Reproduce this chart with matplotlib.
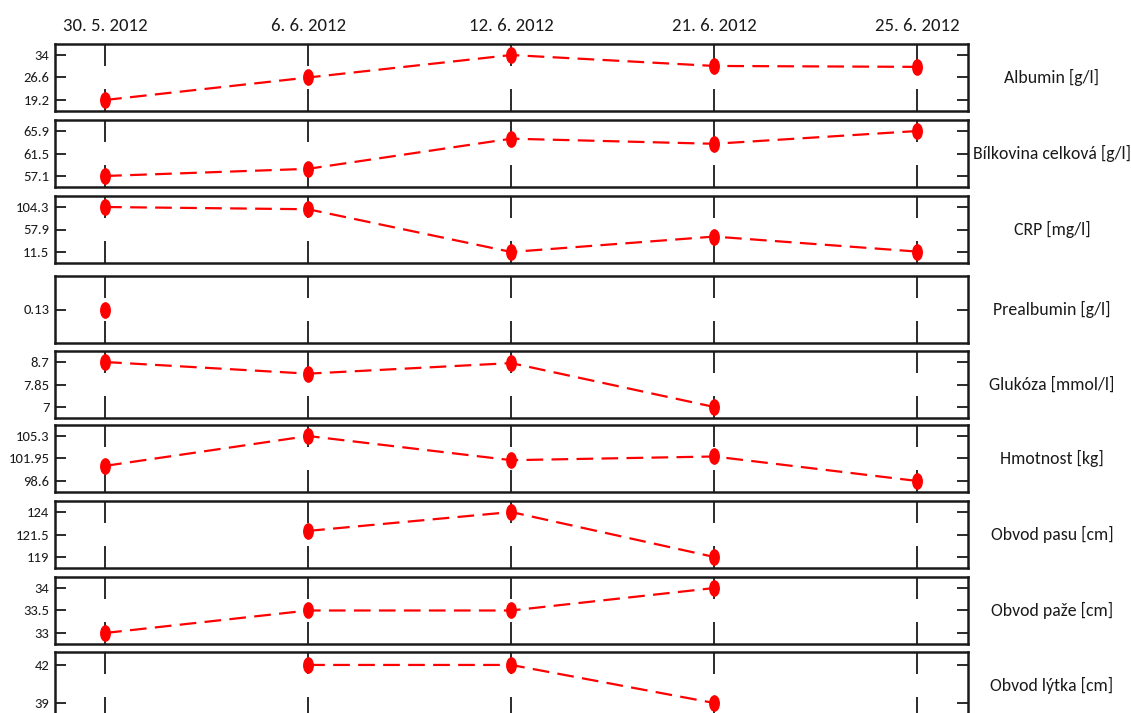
import numpy as np
import matplotlib
matplotlib.use("Agg")
import matplotlib.pyplot as plt
from matplotlib import font_manager
from matplotlib.path import Path
from matplotlib.transforms import Affine2D

# Measurement dates (columns)
dates = ["30. 5. 2012", "6. 6. 2012", "12. 6. 2012", "21. 6. 2012", "25. 6. 2012"]

# Panel titles (right side)
labels = [
    "Albumin [g/l]",
    "Bílkovina celková [g/l]",
    "CRP [mg/l]",
    "Prealbumin [g/l]",
    "Glukóza [mmol/l]",
    "Hmotnost [kg]",
    "Obvod pasu [cm]",
    "Obvod paže [cm]",
    "Obvod lýtka [cm]",
]

nan = np.nan
albumin = [19.2, 26.6, 34.0, 30.4, 30.1]
bilkovina = [57.1, 58.5, 64.4, 63.4, 65.9]
crp = [104.3, 99.7, 11.5, 43.3, 12.3]
prealbumin = [0.13, nan, nan, nan, nan]
glukoza = [8.7, 8.26, 8.66, 7.0, nan]
hmotnost = [100.85, 105.3, 101.7, 102.25, 98.6]
obvod_pasu = [nan, 121.9, 124.0, 119.0, nan]
obvod_paze = [33.0, 33.5, 33.5, 34.0, nan]
obvod_lytka = [nan, 42.0, 42.0, 39.0, nan]

series = [albumin, bilkovina, crp, prealbumin, glukoza,
          hmotnost, obvod_pasu, obvod_paze, obvod_lytka]

# y tick values per panel
yticks = [
    [19.2, 26.6, 34],
    [57.1, 61.5, 65.9],
    [11.5, 57.9, 104.3],
    [0.13],
    [7, 7.85, 8.7],
    [98.6, 101.95, 105.3],
    [119, 121.5, 124],
    [33, 33.5, 34],
    [39, 42],
]

# pick a narrow sans face if one is installed
installed = {f.name for f in font_manager.fontManager.ttflist}
primary = "Liberation Sans"
for cand in ["Carlito", "Liberation Sans Narrow", "Roboto Condensed",
             "Open Sans Condensed", "Liberation Sans"]:
    if cand in installed:
        primary = cand
        break
narrow = primary in ("Carlito", "Liberation Sans Narrow", "Roboto Condensed",
                     "Open Sans Condensed")
sz_tick, sz_date, sz_lab = (10.5, 13.5, 12.8) if narrow else (10, 12, 11.5)

W, H = 1131, 713
plt.rcParams["lines.scale_dashes"] = False
plt.rcParams["font.family"] = [primary, "DejaVu Sans"]

fig = plt.figure(figsize=(W / 100, H / 100), dpi=100)

# tall ellipse marker
ellipse = Path.unit_circle().transformed(Affine2D().scale(0.62, 1.0))

ax_left, ax_right = 55, 968
tops = [44, 120, 196, 276, 351, 425, 501, 577, 652]
ph = 67
edge = "#1a1a1a"

x = np.arange(len(dates))
for i, (vals, ticks, lab) in enumerate(zip(series, yticks, labels)):
    top = tops[i]
    ax = fig.add_axes([ax_left / W, 1 - (top + ph) / H,
                       (ax_right - ax_left) / W, ph / H])
    line, = ax.plot(x, vals, color="#ff0000", lw=1.6,
                    marker=ellipse, ms=11, mfc="#ff0000", mec="#ff0000")
    line.set_dashes([12, 6])
    ax.set_xlim(-0.247, 4.25)
    lo, hi = min(ticks), max(ticks)
    r = hi - lo
    if len(ticks) == 1:
        ax.set_ylim(lo - 0.05, lo + 0.05)
    elif len(ticks) == 2:
        ax.set_ylim(lo - 0.42 * r, hi + 0.34 * r)
    else:
        ax.set_ylim(lo - 0.245 * r, hi + 0.245 * r)
    ax.set_yticks(ticks)
    ax.set_yticklabels([f"{t:g}" for t in ticks])
    ax.set_xticks(x)
    ax.set_xticklabels(dates)
    ax.tick_params(axis="y", direction="in", length=8, width=1.3,
                   left=True, right=True, labelleft=True, labelright=False,
                   pad=4, labelsize=sz_tick, colors=edge)
    ax.tick_params(axis="x", direction="in", length=16, width=1.3,
                   top=True, bottom=True, labelbottom=False,
                   labeltop=(i == 0), pad=7, labelsize=sz_date, colors=edge)
    for s in ax.spines.values():
        s.set_linewidth(1.8)
        s.set_color(edge)
    fig.text(1052 / W, 1 - (top + ph / 2) / H, lab, ha="center", va="center",
             fontsize=sz_lab, color=edge)

fig.savefig("out.png", dpi=100)
